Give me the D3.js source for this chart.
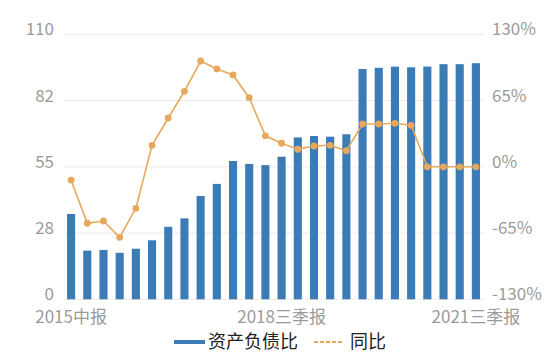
<!DOCTYPE html>
<html><head><meta charset="utf-8">
<script src="https://cdn.jsdelivr.net/npm/d3@7/dist/d3.min.js"></script>
<style>
html,body{margin:0;padding:0;background:#fff;}
svg{display:block;font-family:"Noto Sans CJK SC","Noto Sans",sans-serif;}
</style></head>
<body>
<svg id="c" width="554" height="362"></svg>
<script>
const categories = ["2015中报","2015三季报","2015年报","2016一季报","2016中报","2016三季报","2016年报","2017一季报","2017中报","2017三季报","2017年报","2018一季报","2018中报","2018三季报","2018年报","2019一季报","2019中报","2019三季报","2019年报","2020一季报","2020中报","2020三季报","2020年报","2021一季报","2021中报","2021三季报"];
const debtRatio = [35.4,20.2,20.5,19.3,21.0,24.5,30.1,33.6,42.9,47.9,57.4,56.2,55.7,59.2,67.2,67.8,67.5,68.5,95.6,96.1,96.6,96.3,96.6,97.6,97.6,98.0];
const yoy = [-13,-55.4,-53.2,-69.2,-40.7,21.1,47.9,74.1,103.8,96,90.1,67.8,30.4,23.1,17.2,20.4,21.1,15.8,42,42,42.7,40.7,0,0,0,0];
const leftTicks = [0,27.5,55,82.5,110];
const leftTickLabels = ["0","28","55","82","110"];
const rightTicks = [-130,-65,0,65,130];
const rightTickLabels = ["-130%","-65%","0%","65%","130%"];
const shownLabels = ["2015中报","2018三季报","2021三季报"];
const seriesNames = ["资产负债比","同比"];

const svg = d3.select("#c");
const L = 63, R = 484, T = 34.3, B = 299.3;
const x = d3.scaleBand().domain(categories).range([L,R]).paddingInner(0.5).paddingOuter(0.25);
const yL = d3.scaleLinear().domain([0,110]).range([B,T]);
const yR = d3.scaleLinear().domain([-130,130]).range([B,T]);
const blue = "#3b7bb6", orange = "#e7a85c", grey = "#9b9b9b";

// gridlines
svg.append("g").selectAll("line").data(leftTicks).join("line")
  .attr("x1",L).attr("x2",R).attr("y1",d=>yL(d)).attr("y2",d=>yL(d))
  .attr("stroke","#ebebeb").attr("stroke-width",1);

// left axis
const axL = d3.axisLeft(yL).tickValues(leftTicks).tickSize(0).tickPadding(0)
  .tickFormat((d,i)=>leftTickLabels[i]);
const gL = svg.append("g").attr("transform",`translate(${54},0)`).call(axL);
gL.select(".domain").remove();
gL.selectAll("text").attr("fill",grey).attr("font-size",17).attr("dy","0.35em")
  .attr("y",-5.5).attr("font-family","'Noto Sans CJK SC',sans-serif");

// right axis
const axR = d3.axisRight(yR).tickValues(rightTicks).tickSize(0).tickPadding(0)
  .tickFormat((d,i)=>rightTickLabels[i]);
const gR = svg.append("g").attr("transform",`translate(${492},0)`).call(axR);
gR.select(".domain").remove();
gR.selectAll("text").attr("fill",grey).attr("font-size",17).attr("dy","0.35em")
  .attr("y",-5.5).attr("font-family","'Noto Sans CJK SC',sans-serif");

// bottom axis
const axB = d3.axisBottom(x).tickSize(0).tickPadding(0)
  .tickValues(shownLabels);
const gB = svg.append("g").attr("transform",`translate(0,${B})`).call(axB);
gB.select(".domain").remove();
gB.selectAll("text").attr("fill",grey).attr("font-size",17).attr("dy",0).attr("y",23.5)
  .attr("font-family","'Noto Sans CJK SC',sans-serif");

// bars
svg.append("g").selectAll("rect").data(debtRatio).join("rect")
  .attr("x",(d,i)=>x(categories[i]))
  .attr("width",x.bandwidth())
  .attr("y",d=>yL(d))
  .attr("height",d=>yL(0)-yL(d))
  .attr("fill",blue);

// line
const cx = i => x(categories[i]) + x.bandwidth()/2;
const line = d3.line().x((d,i)=>cx(i)).y(d=>yR(d));
svg.append("path").datum(yoy).attr("d",line).attr("fill","none")
  .attr("stroke",orange).attr("stroke-width",1.6);
svg.append("g").selectAll("circle").data(yoy).join("circle")
  .attr("cx",(d,i)=>cx(i)).attr("cy",d=>yR(d)).attr("r",3.4).attr("fill",orange);

// legend
const lg = svg.append("g");
lg.append("line").attr("x1",174).attr("x2",205).attr("y1",342).attr("y2",342)
  .attr("stroke",blue).attr("stroke-width",4);
lg.append("text").attr("x",208).attr("y",342).attr("dy","0.35em").attr("font-size",18)
  .attr("fill","#222").text(seriesNames[0]);
lg.append("line").attr("x1",314).attr("x2",344).attr("y1",342).attr("y2",342)
  .attr("stroke",orange).attr("stroke-width",2).attr("stroke-dasharray","4,2");
lg.append("text").attr("x",350).attr("y",342).attr("dy","0.35em").attr("font-size",18)
  .attr("fill","#222").text(seriesNames[1]);
</script>
</body></html>
